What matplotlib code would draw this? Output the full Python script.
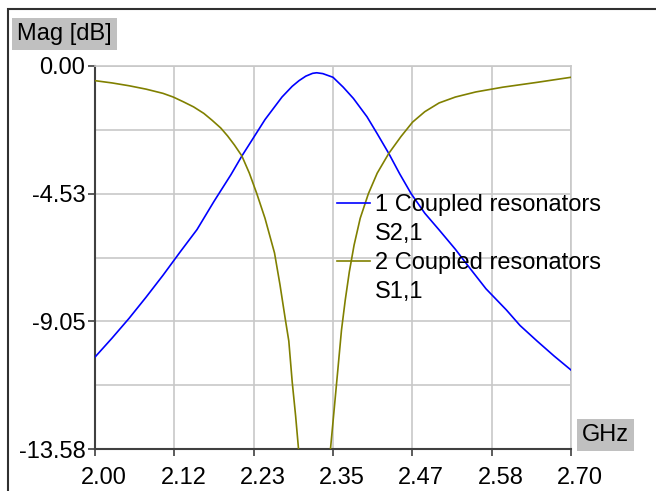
import numpy as np
import matplotlib.pyplot as plt
import matplotlib.transforms as mtransforms
from matplotlib.lines import Line2D
from matplotlib.patches import Rectangle

#DATA

f_s21 = [2.000, 2.025, 2.050, 2.075, 2.100, 2.125, 2.150, 2.175, 2.200, 2.216,
         2.225, 2.250, 2.275, 2.290, 2.300, 2.310, 2.320, 2.326, 2.335, 2.350,
         2.365, 2.380, 2.400, 2.415, 2.432, 2.448, 2.465, 2.485, 2.506, 2.530,
         2.550, 2.575, 2.605, 2.625, 2.650, 2.675, 2.700]
s21 = [-10.32, -9.65, -8.95, -8.20, -7.42, -6.60, -5.80, -4.80, -3.85, -3.19,
       -2.85, -1.90, -1.10, -0.72, -0.52, -0.36, -0.26, -0.24, -0.27, -0.40,
       -0.75, -1.15, -1.80, -2.40, -3.10, -3.82, -4.53, -5.22, -5.81, -6.50,
       -7.13, -7.90, -8.65, -9.20, -9.75, -10.28, -10.78]

f_s11 = [2.000, 2.025, 2.050, 2.075, 2.100, 2.115, 2.130, 2.145, 2.160, 2.172,
         2.185, 2.195, 2.205, 2.216, 2.227, 2.238, 2.250, 2.264, 2.272, 2.280,
         2.285, 2.290, 2.295, 2.2993, 2.305, 2.312, 2.318, 2.3225, 2.327, 2.333,
         2.340, 2.3463, 2.352, 2.357, 2.3625, 2.368, 2.374, 2.381, 2.390, 2.402,
         2.415, 2.432, 2.450, 2.467, 2.485, 2.506, 2.530, 2.560, 2.600, 2.650,
         2.700]
s11 = [-0.52, -0.60, -0.70, -0.82, -0.97, -1.10, -1.27, -1.45, -1.68, -1.92,
       -2.20, -2.48, -2.80, -3.19, -3.80, -4.53, -5.40, -6.63, -7.75, -9.00,
       -9.75, -11.20, -12.40, -13.58, -16.0, -20.0, -26.0, -30.0, -26.0, -20.0,
       -16.0, -13.58, -12.10, -10.80, -9.36, -8.30, -7.30, -6.35, -5.40, -4.53,
       -3.80, -3.10, -2.50, -1.99, -1.62, -1.31, -1.10, -0.92, -0.75, -0.58,
       -0.40]

xticks = [2.0, 2.0 + 0.7/6, 2.0 + 1.4/6, 2.35, 2.0 + 2.8/6, 2.0 + 3.5/6, 2.7]
xlabels = ['2.00', '2.12', '2.23', '2.35', '2.47', '2.58', '2.70']
yticks = [0.0, -4.527, -9.053, -13.58]
ylabels = ['0.00', '-4.53', '-9.05', '-13.58']
yminor = [-2.263, -6.79, -11.317]

labels = ['1 Coupled resonators', 'S2,1', '2 Coupled resonators', 'S1,1']

#PLOTTING

plt.rcParams['font.family'] = ['Liberation Sans', 'DejaVu Sans']
fs = 17
blue = '#0000ff'
olive = '#808000'
grey = '#c8c8c8'
dark = '#404040'

fig = plt.figure(figsize=(6.56, 4.91), dpi=100)
ax = fig.add_axes([95/656, 42/491, 476/656, 383/491])

ax.plot(f_s21, s21, color=blue, lw=1.2, zorder=3)
ax.plot(f_s11, s11, color=olive, lw=1.2, zorder=3)

ax.set_xlim(2.0, 2.7)
ax.set_ylim(-13.58, 0.0)
ax.set_xticks(xticks)
ax.set_xticklabels(xlabels, fontsize=fs)
ax.set_yticks(yticks)
ax.set_yticklabels(ylabels, fontsize=fs)
ax.set_yticks(yminor, minor=True)
ax.tick_params(axis='x', which='major', direction='out', length=5, width=1.2,
               color=dark, pad=8)
ax.tick_params(axis='y', which='major', direction='out', length=5, width=1.2,
               color=dark, pad=2)
ax.tick_params(axis='y', which='minor', length=0)
ax.grid(True, which='both', color=grey, lw=1.2, zorder=0)
ax.set_axisbelow(True)

#x labels sit a bit to the right of their ticks in the reference
shift = mtransforms.ScaledTranslation(9/100, 0, fig.dpi_scale_trans)
for lab in ax.get_xticklabels():
    lab.set_transform(lab.get_transform() + shift)

ax.spines['left'].set_color(dark)
ax.spines['bottom'].set_color(dark)
ax.spines['left'].set_linewidth(1.5)
ax.spines['bottom'].set_linewidth(1.5)
ax.spines['top'].set_color(grey)
ax.spines['right'].set_color(grey)
ax.spines['top'].set_linewidth(1.2)
ax.spines['right'].set_linewidth(1.2)

#legend: line next to first text row, second row has no handle
handles = [Line2D([], [], color=blue, lw=1.2), Line2D([], [], color='none'),
           Line2D([], [], color=olive, lw=1.2), Line2D([], [], color='none')]
ax.legend(handles, labels, loc='upper left', bbox_to_anchor=((337-95)/476, (449-194)/383),
          frameon=False, fontsize=fs, handlelength=1.4, handletextpad=0.2,
          labelspacing=0.3, borderpad=0, borderaxespad=0)

#axis labels in grey boxes
fig.text(17/656, 1 - 34/491, 'Mag [dB]', fontsize=fs, va='center', ha='left',
         bbox=dict(facecolor='#c0c0c0', edgecolor='none', boxstyle='square,pad=0.22'))
fig.text(582/656, 1 - 435/491, 'GHz', fontsize=fs, va='center', ha='left',
         bbox=dict(facecolor='#c0c0c0', edgecolor='none', boxstyle='square,pad=0.22'))

#outer frame, runs off the right and bottom edge
fig.patches.append(Rectangle((8/656, -0.1), 1.2, 1.1 - 9/491, transform=fig.transFigure,
                             fill=False, edgecolor='#303030', lw=1.5))

plt.savefig('out.png', dpi=100, facecolor='w')
